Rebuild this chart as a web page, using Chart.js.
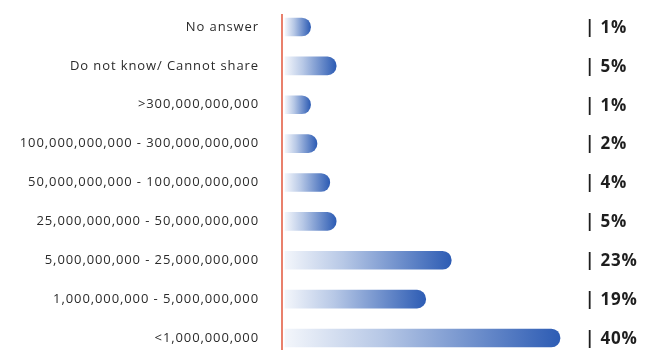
<!DOCTYPE html>
<html>
<head>
<meta charset="utf-8">
<script src="https://cdn.jsdelivr.net/npm/chart.js@4/dist/chart.umd.min.js"></script>
<style>
  html, body { margin: 0; padding: 0; background: #ffffff; }
  #wrap { width: 649px; height: 350px; position: relative; }
</style>
</head>
<body>
<div id="wrap"><canvas id="chart"></canvas></div>
<script>
// Revenue bands and share of respondents (%)
const categories = [
  'No answer',
  'Do not know/ Cannot share',
  '>300,000,000,000',
  '100,000,000,000 - 300,000,000,000',
  '50,000,000,000 - 100,000,000,000',
  '25,000,000,000 - 50,000,000,000',
  '5,000,000,000 - 25,000,000,000',
  '1,000,000,000 - 5,000,000,000',
  '<1,000,000,000'
];
const shares = [1, 5, 1, 2, 4, 5, 23, 19, 40];
const valueLabels = shares.map(v => '| ' + v + '%');

// bars grow out of a short stub left of zero so even 1% reads as a pill
const AXIS_MIN = -3;
const AXIS_MAX = 42.5;

const LIGHT = '#f3f6fb';
const DARK = '#2d5cb4';

function barGradient(ctx) {
  const chart = ctx.chart;
  if (!chart.chartArea || ctx.type !== 'data') return DARK;
  const xs = chart.scales.x;
  const x0 = xs.getPixelForValue(AXIS_MIN);
  const x1 = xs.getPixelForValue(ctx.raw);
  const g = chart.ctx.createLinearGradient(x0, 0, Math.max(x1, x0 + 1), 0);
  g.addColorStop(0, LIGHT);
  g.addColorStop(0.35, '#b7c8e6');
  g.addColorStop(1, DARK);
  return g;
}

// slightly wide tracking for the category labels
const tracking = {
  id: 'tracking',
  beforeDraw(chart) { chart.ctx.letterSpacing = '0.9px'; },
  afterDraw(chart) { chart.ctx.letterSpacing = '0px'; }
};

// thin red baseline and the "| n%" column on the right
const decorations = {
  id: 'decorations',
  afterDatasetsDraw(chart) {
    const c = chart.ctx;
    const xs = chart.scales.x;
    const ys = chart.scales.y;
    const baseX = xs.getPixelForValue(AXIS_MIN) - 3;
    c.save();
    c.strokeStyle = '#e9806c';
    c.lineWidth = 2;
    c.beginPath();
    c.moveTo(baseX, 14);
    c.lineTo(baseX, chart.height);
    c.stroke();

    c.letterSpacing = '0.8px';
    c.fillStyle = '#1e1e1e';
    c.font = 'bold 17px "Open Sans", sans-serif';
    c.textAlign = 'left';
    c.textBaseline = 'middle';
    valueLabels.forEach((t, i) => {
      c.fillText(t, 585, ys.getPixelForValue(i) + 1);
    });
    c.restore();
  }
};

new Chart(document.getElementById('chart'), {
  type: 'bar',
  data: {
    labels: categories,
    datasets: [{
      data: shares,
      base: AXIS_MIN,
      backgroundColor: barGradient,
      borderRadius: 9,
      borderSkipped: 'start',
      barThickness: 18,
      clip: false
    }]
  },
  options: {
    indexAxis: 'y',
    responsive: true,
    maintainAspectRatio: false,
    animation: false,
    layout: { padding: { top: 27, bottom: 12, left: 0, right: 73 } },
    plugins: {
      legend: { display: false },
      tooltip: { enabled: false }
    },
    scales: {
      x: {
        display: false,
        min: AXIS_MIN,
        max: AXIS_MAX
      },
      y: {
        offset: false,
        grid: { display: false, drawTicks: false },
        border: { display: false },
        afterFit(scale) {
          scale.width = 285;
          scale.paddingTop = 0;
          scale.paddingBottom = 0;
        },
        ticks: {
          padding: 26,
          color: '#2b2b2b',
          font: { family: '"Open Sans", sans-serif', size: 13 }
        }
      }
    }
  },
  plugins: [tracking, decorations]
});
</script>
</body>
</html>
